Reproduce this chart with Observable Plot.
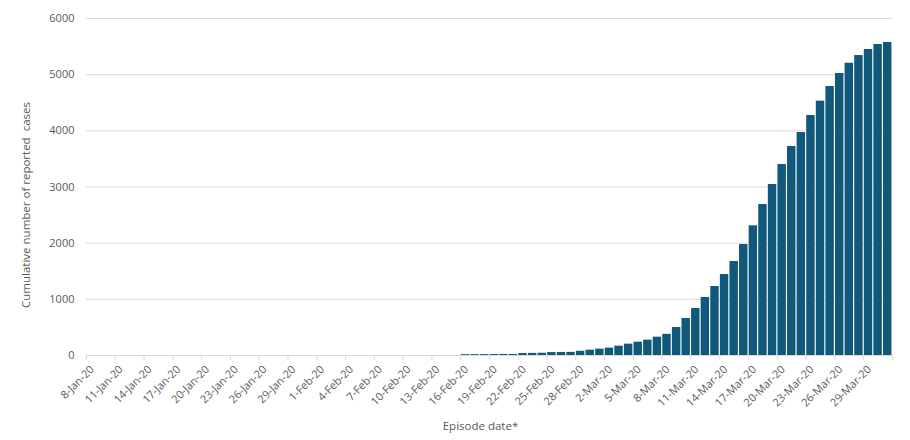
<!DOCTYPE html>
<html>
<head>
<meta charset="utf-8">
<script src="https://cdn.jsdelivr.net/npm/d3@7"></script>
<script src="https://cdn.jsdelivr.net/npm/@observablehq/plot@0.6"></script>
<style>
  html, body { margin: 0; padding: 0; background: #ffffff; }
  #chart { width: 910px; height: 440px; }
</style>
</head>
<body>
<div id="chart"></div>
<script>
// Episode dates (categories), 8 Jan 2020 – 31 Mar 2020
const dates = [
  "8-Jan-20","9-Jan-20","10-Jan-20","11-Jan-20","12-Jan-20","13-Jan-20","14-Jan-20","15-Jan-20",
  "16-Jan-20","17-Jan-20","18-Jan-20","19-Jan-20","20-Jan-20","21-Jan-20","22-Jan-20","23-Jan-20",
  "24-Jan-20","25-Jan-20","26-Jan-20","27-Jan-20","28-Jan-20","29-Jan-20","30-Jan-20","31-Jan-20",
  "1-Feb-20","2-Feb-20","3-Feb-20","4-Feb-20","5-Feb-20","6-Feb-20","7-Feb-20","8-Feb-20",
  "9-Feb-20","10-Feb-20","11-Feb-20","12-Feb-20","13-Feb-20","14-Feb-20","15-Feb-20","16-Feb-20",
  "17-Feb-20","18-Feb-20","19-Feb-20","20-Feb-20","21-Feb-20","22-Feb-20","23-Feb-20","24-Feb-20",
  "25-Feb-20","26-Feb-20","27-Feb-20","28-Feb-20","29-Feb-20","1-Mar-20","2-Mar-20","3-Mar-20",
  "4-Mar-20","5-Mar-20","6-Mar-20","7-Mar-20","8-Mar-20","9-Mar-20","10-Mar-20","11-Mar-20",
  "12-Mar-20","13-Mar-20","14-Mar-20","15-Mar-20","16-Mar-20","17-Mar-20","18-Mar-20","19-Mar-20",
  "20-Mar-20","21-Mar-20","22-Mar-20","23-Mar-20","24-Mar-20","25-Mar-20","26-Mar-20","27-Mar-20",
  "28-Mar-20","29-Mar-20","30-Mar-20","31-Mar-20"
];

// Cumulative number of reported cases per episode date
const cases = [
  0,0,0,0,0,0,0,0,
  0,0,0,0,0,0,0,0,
  0,0,0,0,0,0,0,0,
  0,0,0,0,0,0,0,0,
  0,0,0,0,0,0,0,15,
  15,16,17,18,18,35,38,40,
  52,54,56,75,95,113,131,166,
  202,237,273,326,377,498,659,837,
  1033,1228,1442,1674,1976,2309,2689,3045,
  3401,3721,3970,4273,4528,4789,5021,5204,
  5341,5448,5537,5573
];

// Labelled dates on the x axis (every third day)
const tickLabels = [
  "8-Jan-20","11-Jan-20","14-Jan-20","17-Jan-20","20-Jan-20","23-Jan-20","26-Jan-20","29-Jan-20",
  "1-Feb-20","4-Feb-20","7-Feb-20","10-Feb-20","13-Feb-20","16-Feb-20","19-Feb-20","22-Feb-20",
  "25-Feb-20","28-Feb-20","2-Mar-20","5-Mar-20","8-Mar-20","11-Mar-20","14-Mar-20","17-Mar-20",
  "20-Mar-20","23-Mar-20","26-Mar-20","29-Mar-20"
];

const yTicks = [0, 1000, 2000, 3000, 4000, 5000, 6000];
const yLabel = "Cumulative number of reported  cases";
const xLabel = "Episode date*";

const data = dates.map((d, i) => ({date: d, value: cases[i]}));

const W = 910, H = 440;
const mL = 86, mR = 18, mT = 18, mB = 85;
const step = (W - mL - mR) / dates.length;

const barColor = "#11597a";
const gridColor = "#d9d9d9";
const textColor = "#595959";

const chart = Plot.plot({
  width: W,
  height: H,
  marginLeft: mL,
  marginRight: mR,
  marginTop: mT,
  marginBottom: mB,
  style: {fontFamily: "'Open Sans', sans-serif", fontSize: "10.5px", color: textColor, background: "#ffffff"},
  x: {type: "band", domain: dates, paddingInner: 0.12, paddingOuter: 0.06},
  y: {domain: [0, 6000]},
  marks: [
    Plot.gridY(yTicks, {stroke: gridColor, strokeOpacity: 1}),
    Plot.barY(data, {x: "date", y: "value", fill: barColor}),
    Plot.ruleY([0], {stroke: gridColor, strokeWidth: 1}),
    Plot.axisY(yTicks, {tickSize: 0, tickPadding: 12, tickFormat: d => String(d), label: null, fill: textColor, fontSize: 11}),
    // tick marks at category boundaries
    Plot.axisX(tickLabels, {tickSize: 5, tickFormat: () => "", stroke: gridColor, dx: -step / 2, label: null}),
    Plot.axisX([dates[dates.length - 1]], {tickSize: 5, tickFormat: () => "", stroke: gridColor, dx: step / 2, label: null}),
    // rotated labels centered on categories
    Plot.axisX(tickLabels, {tickSize: 0, tickPadding: 12, tickRotate: -45, dx: 1, label: null, fill: textColor, fontSize: 11}),
    Plot.text([xLabel], {frameAnchor: "bottom", textAnchor: "middle", dx: -9, dy: 74, fill: textColor, fontSize: 11.5}),
    Plot.text([yLabel], {frameAnchor: "left", textAnchor: "middle", rotate: -90, dx: -60, dy: 18, fill: textColor, fontSize: 11.5})
  ]
});

document.getElementById("chart").appendChild(chart);
</script>
</body>
</html>
